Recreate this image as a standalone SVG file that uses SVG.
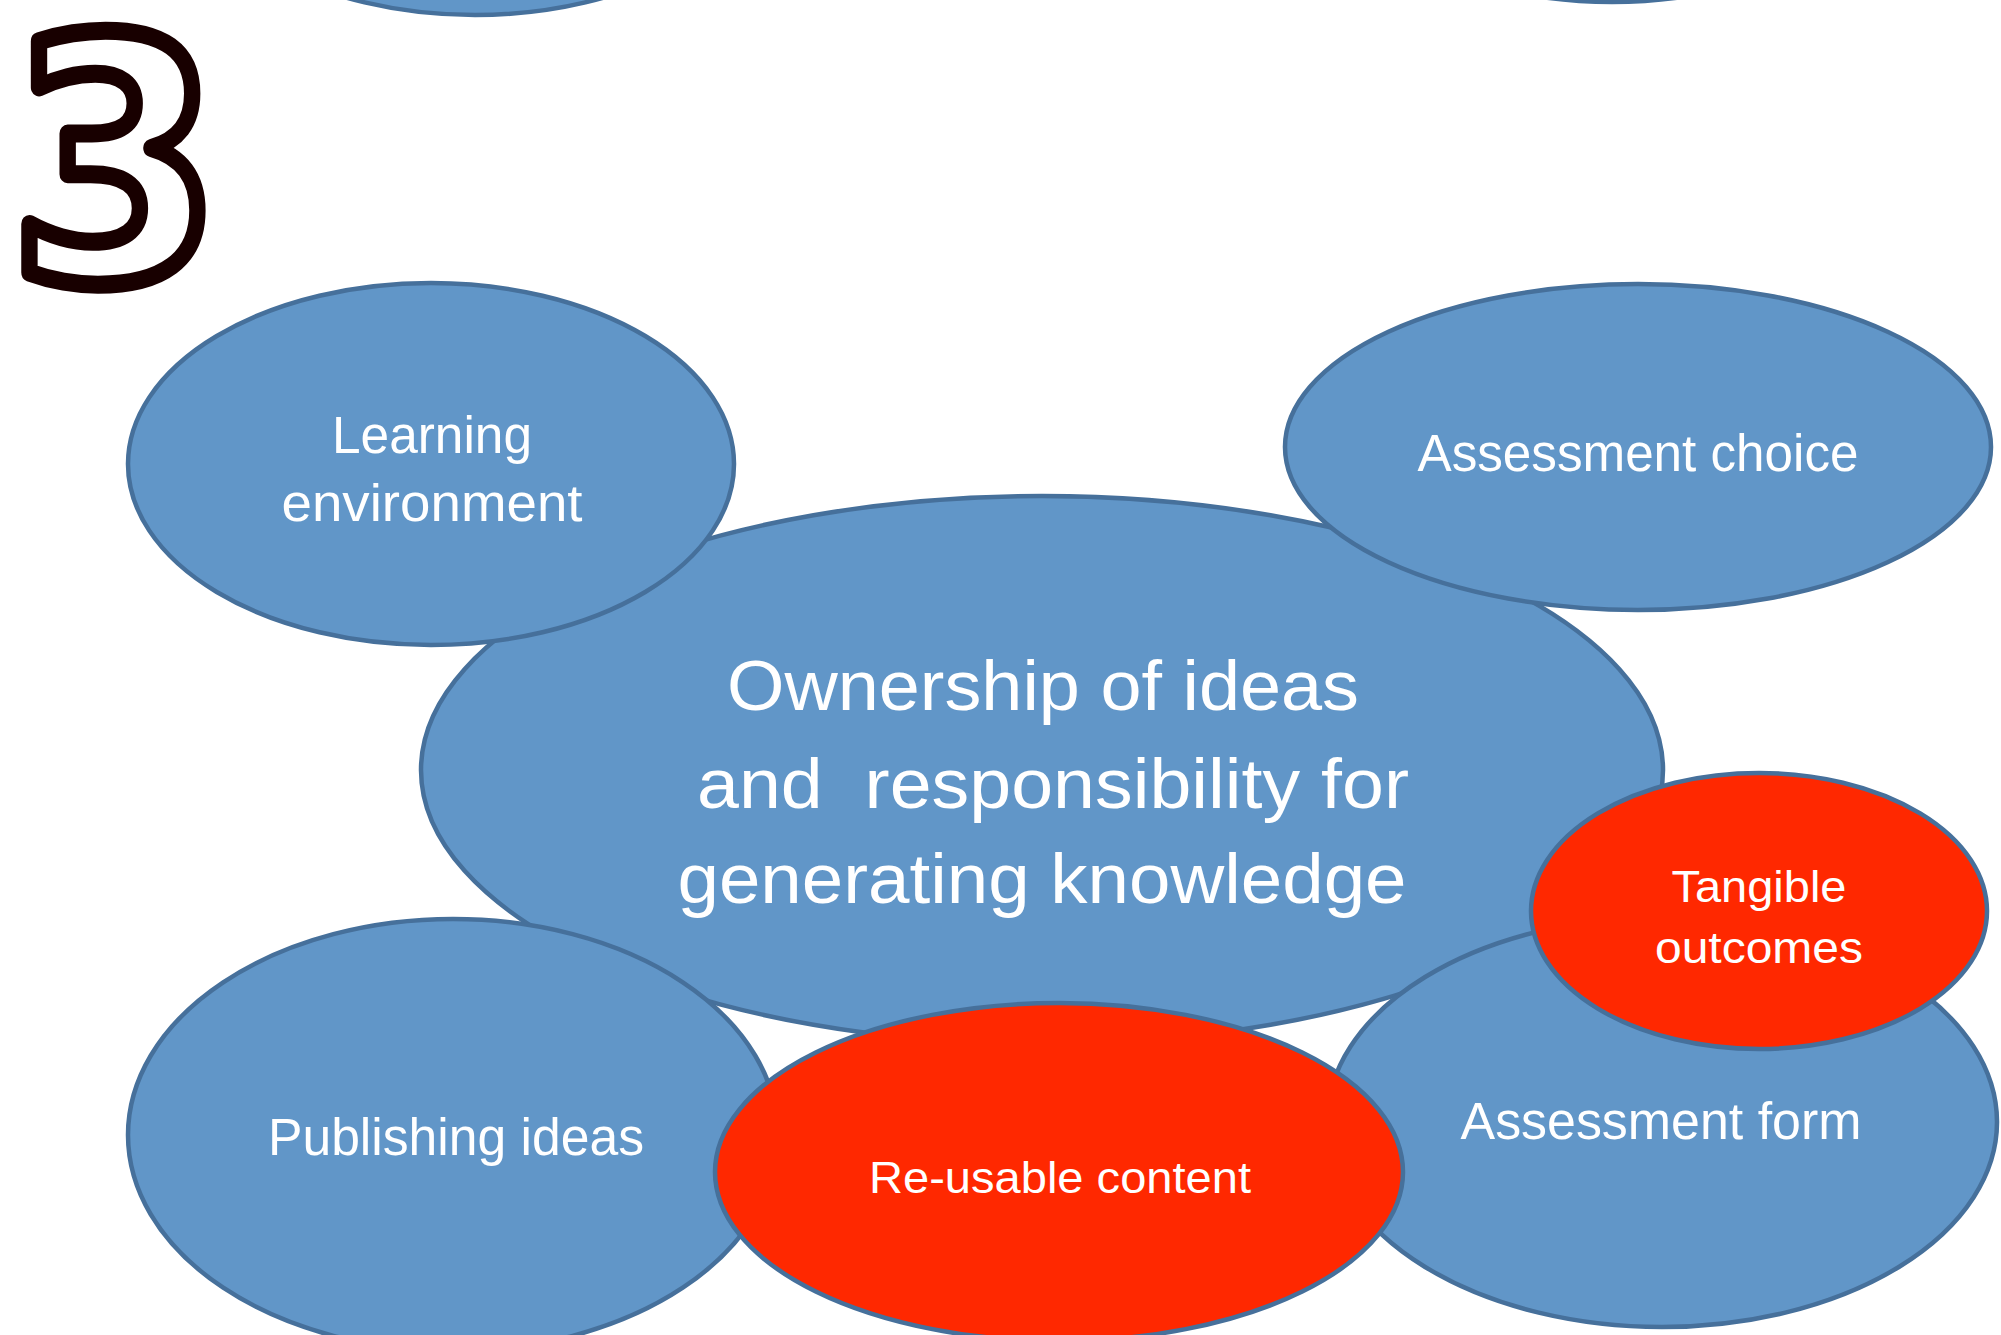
<svg xmlns="http://www.w3.org/2000/svg" width="2001" height="1335" viewBox="0 0 2001 1335">
<style>
.b{fill:#6196C8;stroke:#46709B;stroke-width:4.5}
.r{fill:#FF2800;stroke:#46709B;stroke-width:4.5}
.t{fill:#FFFFFF;font-family:"Liberation Sans",Arial,sans-serif;text-anchor:middle}
.m{font-size:51px}
.c{font-size:70px}
.s{font-size:44px}
.n{fill:#FFFFFF;stroke:#180000;stroke-width:18;stroke-linejoin:round;font-family:"DejaVu Sans","Liberation Sans",sans-serif;font-weight:bold;font-size:336px}
</style>
<rect width="2001" height="1335" fill="#FFFFFF"/>
<g id="num"><text class="n" transform="translate(9,0) scale(0.91,1)" x="0" y="280">3</text></g>
<g id="connectors"></g>
<g id="top-left"><ellipse class="b" cx="475" cy="-165" rx="300" ry="180"/></g>
<g id="top-right"><ellipse class="b" cx="1612" cy="-178" rx="300" ry="180"/></g>
<g id="central">
<ellipse class="b" cx="1042" cy="770" rx="621" ry="274"/>
<text class="t c" x="1043" y="710" textLength="632" lengthAdjust="spacingAndGlyphs">Ownership of ideas</text>
<text class="t c" x="1053" y="808" textLength="712" lengthAdjust="spacingAndGlyphs">and&#160; responsibility for</text>
<text class="t c" x="1042" y="903" textLength="729" lengthAdjust="spacingAndGlyphs">generating knowledge</text>
</g>
<g id="learning">
<ellipse class="b" cx="431" cy="464" rx="303" ry="181"/>
<text class="t m" x="432" y="453" textLength="200" lengthAdjust="spacingAndGlyphs">Learning</text>
<text class="t m" x="432" y="521" textLength="301" lengthAdjust="spacingAndGlyphs">environment</text>
</g>
<g id="choice">
<ellipse class="b" cx="1638" cy="447" rx="353" ry="163"/>
<text class="t m" x="1638" y="471" textLength="441" lengthAdjust="spacingAndGlyphs">Assessment choice</text>
</g>
<g id="publishing">
<ellipse class="b" cx="453" cy="1135" rx="325" ry="216"/>
<text class="t m" x="456" y="1155" textLength="376" lengthAdjust="spacingAndGlyphs">Publishing ideas</text>
</g>
<g id="form">
<ellipse class="b" cx="1662" cy="1122" rx="335" ry="205"/>
<text class="t m" x="1661" y="1139" textLength="401" lengthAdjust="spacingAndGlyphs">Assessment form</text>
</g>
<g id="tangible">
<ellipse class="r" cx="1759" cy="911" rx="228" ry="138"/>
<text class="t s" x="1759" y="902" textLength="175" lengthAdjust="spacingAndGlyphs">Tangible</text>
<text class="t s" x="1759" y="963" textLength="208" lengthAdjust="spacingAndGlyphs">outcomes</text>
</g>
<g id="reusable">
<ellipse class="r" cx="1059" cy="1172" rx="344" ry="169"/>
<text class="t s" x="1060" y="1193" textLength="382" lengthAdjust="spacingAndGlyphs">Re-usable content</text>
</g>
</svg>
